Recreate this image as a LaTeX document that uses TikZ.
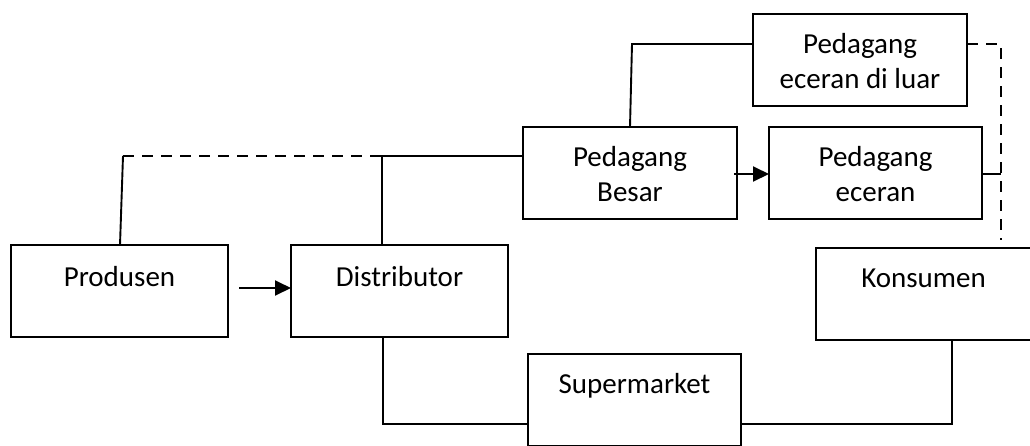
\documentclass[tikz,border=0pt]{standalone}
\usepackage{fontspec}
\setmainfont{Carlito}
\usetikzlibrary{arrows.meta,calc}
\begin{document}
\begin{tikzpicture}[x=1pt,y=-1pt,
  box/.style={draw, line width=1.9pt, rectangle, inner sep=0pt, outer sep=0pt, minimum height=92pt},
  lbl/.style={anchor=base, inner sep=0pt, align=center, font=\fontsize{29}{35.5}\selectfont},
  conn/.style={line width=1.9pt},
  dconn/.style={line width=1.9pt, dash pattern=on 11pt off 8pt},
  arr/.style={line width=1.9pt, -{Triangle[length=16pt,width=15pt]}}
]
\useasboundingbox (0,0) rectangle (1030,445);
\clip (0,0) rectangle (1030,445);
\fill[white] (0,0) rectangle (1030,445);
% boxes
\node[box, minimum width=217pt] (prod) at (119.5,291) {};
\node[box, minimum width=217pt] (dist) at (399.5,291) {};
\node[box, minimum width=214pt] (pb) at (630,173) {};
\node[box, minimum width=213pt] (pe) at (875.5,173) {};
\node[box, minimum width=214pt] (pel) at (860,60) {};
\node[box, minimum width=215pt] (kons) at (923.5,294) {};
\node[box, minimum width=213pt] (sup) at (634.5,400) {};
% labels (base anchor = baseline of last line)
\node[lbl] (tprod) at ($(prod.north)+(0,41)$) {Produsen};
\node[lbl] (tdist) at ($(dist.north)+(0,41)$) {Distributor};
\node[lbl] (tpb) at ($(pb.north)+(0,74.5)$) {Pedagang\\Besar};
\node[lbl] (tpe) at ($(pe.north)+(0,74.5)$) {Pedagang\\eceran};
\node[lbl] (tpel) at ($(pel.north)+(0,74.5)$) {Pedagang\\eceran di luar};
\node[lbl] (tkons) at ($(kons.north)+(0,39)$) {Konsumen};
\node[lbl] (tsup) at ($(sup.north)+(0,39)$) {Supermarket};
% junction coordinates
\coordinate (j1) at (123,156);
\coordinate (j2) at (382,156);
\coordinate (j3) at (383,424);
\coordinate (j4) at (952,424);
\coordinate (j5) at (632,44);
\coordinate (j6) at (1001,44);
\coordinate (j7) at (1001,240);
\coordinate (j8) at (1001,174);
% connectors
\draw[conn] ([xshift=0.5pt]prod.north) -- (j1);
\draw[dconn] (j1) -- (j2);
\draw[conn] (dist.north -| j2) -- (j2) -- (pb.west |- j2);
\draw[conn] (dist.south -| j3) -- (j3) -- (sup.west |- j3);
\draw[conn] (sup.east |- j4) -- (j4) -- (kons.south -| j4);
\draw[conn] (pb.north) -- (j5) -- (pel.west |- j5);
\draw[dconn] (pel.east |- j6) -- (j6) -- (j7);
\draw[conn] (pe.east |- j8) -- (j8);
\draw[arr] ([xshift=11pt]prod.east |- 0,288) -- (dist.west |- 0,288);
\draw[arr] ([xshift=-3pt]pb.east |- 0,174) -- (pe.west |- 0,174);
\end{tikzpicture}
\end{document}
